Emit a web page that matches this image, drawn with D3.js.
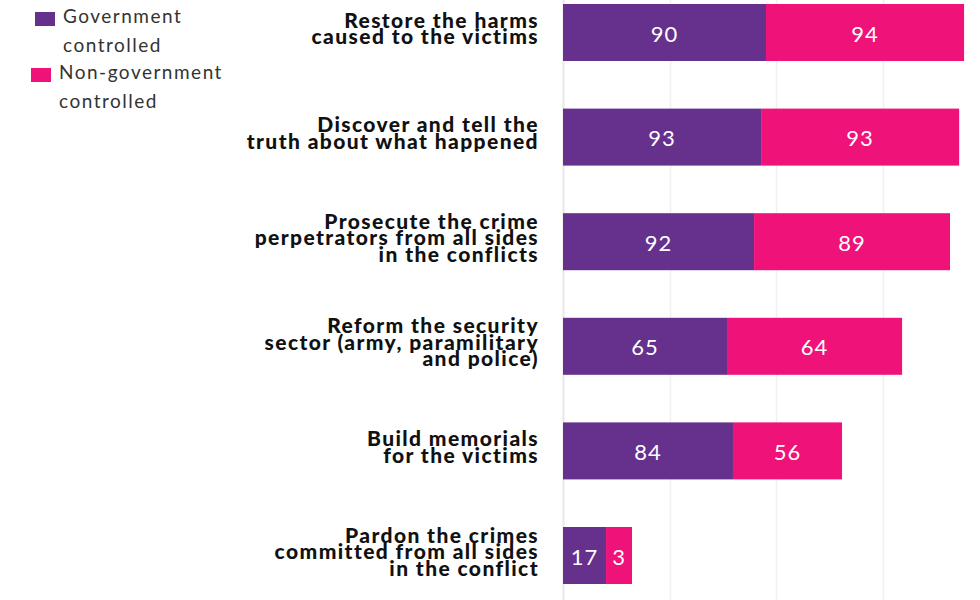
<!DOCTYPE html>
<html>
<head>
<meta charset="utf-8">
<script src="https://cdn.jsdelivr.net/npm/d3@7"></script>
<style>
  html, body { margin: 0; padding: 0; background: #fff; }
  svg { display: block; }
</style>
</head>
<body>
<svg id="chart" width="980" height="600"></svg>
<script>
// ---- data ----
const categories = [
  ["Restore the harms", "caused to the victims"],
  ["Discover and tell the", "truth about what happened"],
  ["Prosecute the crime", "perpetrators from all sides", "in the conflicts"],
  ["Reform the security", "sector (army, paramilitary", "and police)"],
  ["Build memorials", "for the victims"],
  ["Pardon the crimes", "committed from all sides", "in the conflict"]
];
const seriesNames = ["Government controlled", "Non-government controlled"];
// bar lengths (axis units)
const govLength    = [95.3, 93.0, 89.7, 77.0, 79.8, 20.2];
const nonGovLength = [93.0, 93.0, 92.0, 82.2, 51.2, 12.2];
// value labels shown inside the bars
const govLabels    = [90, 93, 92, 65, 84, 17];
const nonGovLabels = [94, 93, 89, 64, 56, 3];
const gridTicks = [0, 50, 100, 150];
const legendLines = [["Government", "controlled"], ["Non-government", "controlled"]];

// ---- layout ----
const colors = ["#66308d", "#ee1279"];
const svg = d3.select("#chart");
const x = d3.scaleLinear().domain([0, 200]).range([563, 989]);
const yc = d3.scalePoint().domain(d3.range(categories.length)).range([32.5, 555.5]);

// gridlines
svg.append("g").selectAll("line").data(gridTicks).join("line")
  .attr("x1", d => Math.round(x(d)) + 0.5).attr("x2", d => Math.round(x(d)) + 0.5)
  .attr("y1", 0).attr("y2", 600)
  .attr("stroke", (d, i) => i === 0 ? "#e8e8e8" : "#f0f0f0")
  .attr("stroke-width", (d, i) => i === 0 ? 2 : 1.5);

// stacked data
const rows = categories.map((c, i) => ({
  i,
  segs: [
    { s: 0, x0: 0, x1: govLength[i], label: govLabels[i] },
    { s: 1, x0: govLength[i], x1: govLength[i] + nonGovLength[i], label: nonGovLabels[i] }
  ]
}));

const barH = 57;
const rowG = svg.append("g").selectAll("g").data(rows).join("g")
  .attr("transform", d => `translate(0,${yc(d.i) - barH / 2})`);

rowG.selectAll("rect").data(d => d.segs).join("rect")
  .attr("x", d => x(d.x0))
  .attr("width", d => x(d.x1) - x(d.x0))
  .attr("y", 0).attr("height", barH)
  .attr("fill", d => colors[d.s]);

rowG.selectAll("text.val").data(d => d.segs).join("text")
  .attr("class", "val")
  .attr("x", d => (x(d.x0) + x(d.x1)) / 2)
  .attr("y", barH / 2 + 9)
  .attr("text-anchor", "middle")
  .attr("fill", "#fff")
  .style("font-family", "Lato, 'Open Sans', sans-serif")
  .style("font-size", "22px")
  .style("letter-spacing", "1px")
  .text(d => d.label);

// category labels
const catG = svg.append("g").selectAll("text").data(rows).join("text")
  .attr("text-anchor", "end")
  .attr("fill", "#111")
  .style("font-family", "Lato, sans-serif")
  .style("font-weight", "900")
  .style("font-size", "21px")
  .style("letter-spacing", "1.4px")
  .attr("transform", d => {
    const n = categories[d.i].length;
    return `translate(539,${yc(d.i) + 3.5 - (n - 1) * 8.25})`;
  });
catG.selectAll("tspan").data(d => categories[d.i]).join("tspan")
  .attr("x", 0)
  .attr("dy", (d, j) => j === 0 ? 0 : 16.5)
  .text(d => d);

// legend
const leg = svg.append("g").selectAll("g").data(seriesNames).join("g")
  .attr("transform", (d, i) => `translate(${i === 0 ? 35 : 31},${i === 0 ? 12 : 68})`);
leg.append("rect").attr("width", 20).attr("height", 14).attr("fill", (d, i) => colors[i]);
const legT = leg.append("text")
  .attr("x", 28).attr("y", 11)
  .attr("fill", "#333")
  .style("font-family", "Lato, sans-serif")
  .style("font-size", "19px")
  .style("letter-spacing", "1.5px");
legT.selectAll("tspan").data((d, i) => legendLines[i]).join("tspan")
  .attr("x", 28).attr("dy", (d, j) => j === 0 ? 0 : 29)
  .text(d => d);
</script>
</body>
</html>
